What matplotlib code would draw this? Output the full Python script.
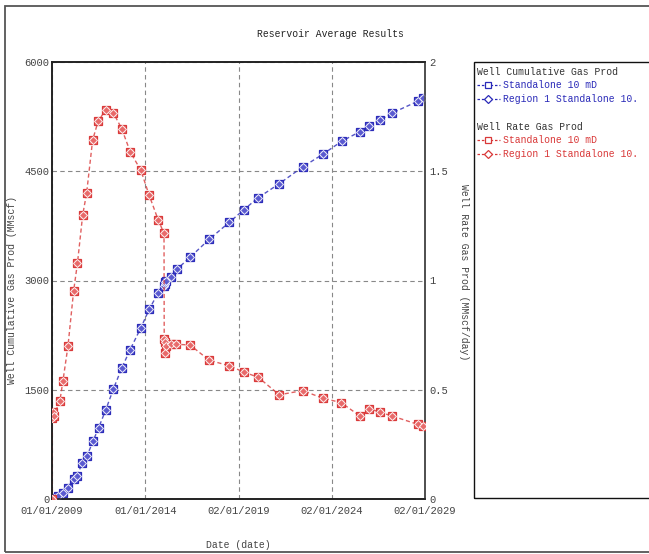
import matplotlib
matplotlib.use("Agg")
import matplotlib.pyplot as plt
from matplotlib.patches import Rectangle
from matplotlib.lines import Line2D
import pandas as pd

# ---- data -------------------------------------------------------------
cum_dates = ["2009-01-01", "2009-02-06", "2009-05-05", "2009-07-28", "2009-11-03",
             "2010-03-01", "2010-05-05", "2010-08-15", "2010-11-17", "2011-03-15",
             "2011-07-01", "2011-11-17", "2012-04-15", "2012-09-27", "2013-03-08",
             "2013-10-08", "2014-03-21", "2014-09-05", "2015-01-08", "2015-01-15",
             "2015-01-23", "2015-02-03", "2015-05-19", "2015-09-13", "2016-06-03",
             "2017-06-07", "2018-07-08", "2019-04-16", "2020-01-23", "2021-03-10",
             "2022-06-10", "2023-07-20", "2024-07-13", "2025-07-05", "2026-01-01",
             "2026-07-28", "2027-04-02", "2028-08-11", "2028-11-17"]
cum_gas = [0, 15, 41, 86, 155, 270, 320, 490, 590, 792,
           975, 1218, 1506, 1795, 2046, 2352, 2605, 2824, 2930, 2950,
           2975, 2995, 3052, 3154, 3323, 3566, 3800, 3972, 4137, 4329,
           4558, 4737, 4911, 5043, 5125, 5200, 5300, 5460, 5506]

rate_dates = ["2009-01-01", "2009-01-02", "2009-01-12", "2009-02-06", "2009-06-05",
              "2009-08-03", "2009-11-10", "2010-03-01", "2010-05-15", "2010-08-25",
              "2010-11-10", "2011-03-08", "2011-06-25", "2011-11-17", "2012-04-15",
              "2012-09-27", "2013-03-15", "2013-10-08", "2014-03-15", "2014-09-12",
              "2015-01-04", "2015-01-08", "2015-01-15", "2015-01-23", "2015-02-03",
              "2015-05-19", "2015-08-28", "2016-05-27", "2017-06-07", "2018-07-01",
              "2019-04-16", "2020-01-23", "2021-03-10", "2022-06-10", "2023-07-06",
              "2024-07-06", "2025-07-05", "2026-01-05", "2026-07-28", "2027-03-27",
              "2028-08-11", "2028-11-28"]
rate_gas = [0.0, 0.37, 0.40, 0.38, 0.45, 0.54, 0.70, 0.953, 1.08, 1.30,
            1.40, 1.643, 1.73, 1.78, 1.768, 1.695, 1.588, 1.504, 1.393, 1.277,
            1.216, 0.73, 0.67, 0.72, 0.70, 0.71, 0.708, 0.705, 0.635, 0.61,
            0.581, 0.557, 0.477, 0.496, 0.462, 0.441, 0.380, 0.413, 0.398, 0.380,
            0.342, 0.332]

series_names = ["Standalone 10 mD", "Region 1 Standalone 10."]
x_ticks = ["2009-01-01", "2014-01-01", "2019-01-02", "2024-01-02", "2029-01-02"]
x_tick_labels = ["01/01/2009", "01/01/2014", "02/01/2019", "02/01/2024", "02/01/2029"]
left_ticks = [0, 1500, 3000, 4500, 6000]
right_ticks = [0, 0.5, 1, 1.5, 2]
right_tick_labels = ["0", "0.5", "1", "1.5", "2"]

# ---- styling ----------------------------------------------------------
FONT = "Liberation Mono"
BLUE = "#2a2ab8"
BLUE_FILL = "#5a5ad0"
RED = "#d93838"
RED_FILL = "#e86a6a"
TXT = "#444444"

W, H = 649, 554
fig = plt.figure(figsize=(W / 100, H / 100), dpi=100)
fig.patch.set_facecolor("white")


def fx(px):
    return px / W


def fy(py):
    return 1 - py / H


# outer frame
fig.add_artist(Rectangle((fx(5), fy(552)), 1.2, fy(6) - fy(552), transform=fig.transFigure,
                         fill=False, edgecolor="#555555", lw=1.3, clip_on=False))

ax = fig.add_axes([fx(52), fy(499), fx(425) - fx(52), fy(62) - fy(499)])
ax2 = ax.twinx()

cd = pd.to_datetime(cum_dates)
rd = pd.to_datetime(rate_dates)


def draw_series(axis, x, y, color, fill):
    axis.plot(x, y, ls=(0, (3, 2)), lw=1.0, color=color, alpha=0.8, zorder=2)
    axis.plot(x, y, ls="none", marker="s", ms=6.4, mfc=fill, mec=color, mew=0.9, zorder=3)
    axis.plot(x, y, ls="none", marker="D", ms=3.8, mfc=fill, mec="white", mew=0.7,
              alpha=0.9, zorder=4)


draw_series(ax, cd, cum_gas, BLUE, BLUE_FILL)
draw_series(ax2, rd, rate_gas, RED, RED_FILL)

ax.set_xlim(pd.Timestamp("2009-01-01"), pd.Timestamp("2029-01-02"))
ax.set_ylim(0, 6000)
ax2.set_ylim(0, 2)

ax.set_xticks(pd.to_datetime(x_ticks))
ax.set_xticklabels(x_tick_labels)
ax.set_yticks(left_ticks)
ax.set_yticklabels([str(v) for v in left_ticks])
ax2.set_yticks(right_ticks)
ax2.set_yticklabels(right_tick_labels)

for a in (ax, ax2):
    a.tick_params(length=0, labelsize=7.6, labelcolor=TXT)
    for lab in a.get_xticklabels() + a.get_yticklabels():
        lab.set_fontfamily(FONT)
ax.tick_params(axis="x", pad=5)
ax.tick_params(axis="y", pad=2)
ax2.tick_params(axis="y", pad=3)

ax.grid(True, ls=(0, (4, 3)), color="#888888", lw=0.8)
ax.set_axisbelow(True)
for a in (ax, ax2):
    for s in a.spines.values():
        s.set_color("#222222")
        s.set_linewidth(1.2)
ax2.spines["right"].set_color("#555555")

# titles and axis labels
fig.text(fx(330), fy(34), "Reservoir Average Results", ha="center", va="center",
         family=FONT, fontsize=7, color="#222222")
fig.text(fx(238), fy(545), "Date (date)", ha="center", va="center",
         family=FONT, fontsize=7, color=TXT)
fig.text(fx(12), fy(290), "Well Cumulative Gas Prod (MMscf)", ha="center", va="center",
         rotation=90, family=FONT, fontsize=7, color=TXT)
fig.text(fx(464), fy(272), "Well Rate Gas Prod (MMscf/day)", ha="center", va="center",
         rotation=-90, family=FONT, fontsize=7, color=TXT)

# legend panel
fig.add_artist(Rectangle((fx(474), fy(498)), 1.0, fy(62) - fy(498), transform=fig.transFigure,
                         fill=False, edgecolor="#111111", lw=1.0, clip_on=False))

groups = [("Well Cumulative Gas Prod", BLUE, 72), ("Well Rate Gas Prod", RED, 127)]
for header, color, y0 in groups:
    fig.text(fx(477), fy(y0), header, ha="left", va="center", family=FONT,
             fontsize=7, color="#333333")
    for i, (name, mk) in enumerate(zip(series_names, ["s", "D"])):
        yy = fy(y0 + 13.3 * (i + 1))
        fig.add_artist(Line2D([fx(477), fx(500)], [yy, yy], transform=fig.transFigure,
                              ls=(0, (2, 1.5)), lw=0.9, color=color))
        fig.add_artist(Line2D([fx(488.5)], [yy], transform=fig.transFigure, ls="none",
                              marker=mk, ms=5 if mk == "s" else 4.5, mfc="white",
                              mec=color, mew=0.9))
        fig.text(fx(503), yy, name, ha="left", va="center", family=FONT,
                 fontsize=7, color=color)

fig.savefig("out.png", dpi=100)
